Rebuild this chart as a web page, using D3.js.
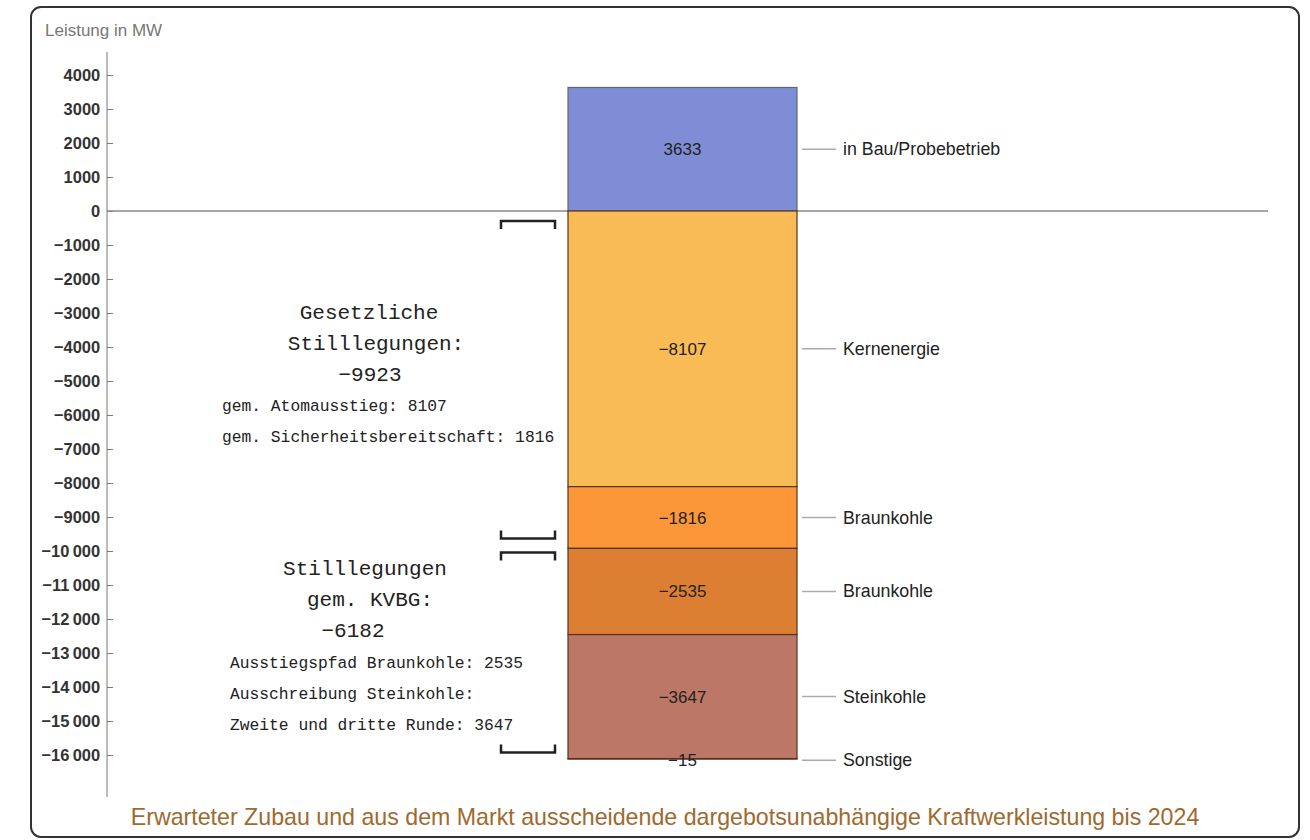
<!DOCTYPE html>
<html><head><meta charset="utf-8">
<script src="https://cdn.jsdelivr.net/npm/d3@7"></script>
<style>body{margin:0;background:#fff}svg{display:block}</style>
</head><body><svg id="c" width="1310" height="840"></svg>
<script>
const categories = ["in Bau/Probebetrieb","Kernenergie","Braunkohle","Braunkohle","Steinkohle","Sonstige"];
const values = [3633,-8107,-1816,-2535,-3647,-15];
const colors = ["#7f8dd6","#f9bb55","#fb9639","#dc7f33","#bc7767","#7a4a3a"];
const tickValues = d3.range(-16000,4001,1000);
const groupA = {from:0,to:-9923,lines:["Gesetzliche","Stilllegungen:","\u22129923"],notes:["gem. Atomausstieg: 8107","gem. Sicherheitsbereitschaft: 1816"]};
const groupB = {from:-9923,to:-16105,lines:["Stilllegungen","gem. KVBG:","\u22126182"],notes:["Ausstiegspfad Braunkohle: 2535","Ausschreibung Steinkohle:","Zweite und dritte Runde: 3647"]};
const title = "Erwarteter Zubau und aus dem Markt ausscheidende dargebotsunabhängige Kraftwerkleistung bis 2024";
const yLabel = "Leistung in MW";

const svg = d3.select("#c");
svg.append("rect").attr("x",31).attr("y",7).attr("width",1268).attr("height",830).attr("rx",10)
  .attr("fill","#fff").attr("stroke","#333").attr("stroke-width",2);

const y = d3.scaleLinear().domain([-17235,4676]).range([797,52]);
const x = d3.scaleBand().domain(["all"]).range([568,797]).padding(0);

const fmt = v => {
  const a = Math.abs(v);
  let s = a >= 10000 ? String(a).replace(/(\d+)(\d{3})$/,"$1\u2009$2") : String(a);
  return (v<0?"\u2212":"")+s;
};
const sans = "Liberation Sans, Arial, sans-serif";

// axis
const ax = svg.append("g").attr("transform","translate(107,0)")
  .call(d3.axisRight(y).tickValues(tickValues).tickSize(6).tickFormat(fmt));
ax.select(".domain").attr("stroke","#777").attr("d",`M0,${y.range()[1]}V${y.range()[0]}`);
ax.selectAll(".tick line").attr("stroke","#777");
ax.selectAll(".tick text").attr("x",-7).attr("text-anchor","end")
  .attr("font-family",sans).attr("font-size",17)
  .attr("fill","#333").attr("font-weight","bold").attr("stroke","none")
  .attr("transform","scale(0.97,1)");

svg.append("text").attr("x",45).attr("y",36).text(yLabel)
  .attr("font-family",sans).attr("font-size",17).attr("fill","#777");

// stacked segments
let posAcc=0, negAcc=0;
const segs = values.map((v,i)=>{
  let y0,y1;
  if(v>=0){y0=posAcc;y1=posAcc+v;posAcc=y1;} else {y0=negAcc;y1=negAcc+v;negAcc=y1;}
  return {v,i,y0,y1,cat:categories[i],col:colors[i]};
});

// zero line
svg.append("line").attr("x1",107).attr("x2",1268).attr("y1",y(0)).attr("y2",y(0))
  .attr("stroke","#888").attr("stroke-width",1.5);

const g = svg.append("g");
g.selectAll("rect.seg").data(segs).join("rect").attr("class","seg")
  .attr("x",x("all")).attr("width",x.bandwidth())
  .attr("y",d=>y(Math.max(d.y0,d.y1))).attr("height",d=>Math.abs(y(d.y0)-y(d.y1)))
  .attr("fill",d=>d.col).attr("stroke",d=>d.v>0?"#666":"#553322").attr("stroke-width",1.2);

g.selectAll("text.val").data(segs).join("text").attr("class","val")
  .attr("x",x("all")+x.bandwidth()/2).attr("y",d=>y((d.y0+d.y1)/2)+(d.v===-15?7:6))
  .attr("text-anchor","middle").text(d=>fmt(d.v))
  .attr("font-family",sans).attr("font-size",17).attr("fill","#222");

const lblY = d => y((d.y0+d.y1)/2)+(d.v===-15?1.5:0);
g.selectAll("line.lead").data(segs).join("line").attr("class","lead")
  .attr("x1",802).attr("x2",836).attr("y1",lblY).attr("y2",lblY)
  .attr("stroke","#aaa").attr("stroke-width",1.5);
g.selectAll("text.cat").data(segs).join("text").attr("class","cat")
  .attr("x",843).attr("y",d=>lblY(d)+6).text(d=>d.cat)
  .attr("font-family",sans).attr("font-size",17.8).attr("fill","#222");

// brackets
function bracket(v, off, dir){
  const yy = y(v)+off;
  svg.append("path").attr("d",`M501,${yy+dir*8}V${yy}H555V${yy+dir*8}`)
    .attr("fill","none").attr("stroke","#222").attr("stroke-width",2.5);
}
bracket(groupA.from,10,1); bracket(groupA.to,-10,-1);
bracket(groupB.from,4,1); bracket(groupB.to,-6,-1);

const mono = "Liberation Mono, DejaVu Sans Mono, monospace";
function block(grp, cx, yStart, lh, nx, nyStart, nlh){
  grp.lines.forEach((t,i)=>svg.append("text").attr("x",cx[i]).attr("y",yStart+i*lh).attr("text-anchor","middle")
    .text(t).attr("font-family",mono).attr("font-size",21).attr("fill","#222"));
  grp.notes.forEach((t,i)=>svg.append("text").attr("x",nx).attr("y",nyStart+i*nlh)
    .text(t).attr("font-family",mono).attr("font-size",16.3).attr("fill","#222"));
}
block(groupA,[369,376,370],319,31,222,411,31);
block(groupB,[365,370,353],575,31,230,668,31);

svg.append("text").attr("x",665).attr("y",825).attr("text-anchor","middle").text(title)
  .attr("font-family",sans).attr("font-size",23.2).attr("fill","#a0692f");
</script></body></html>
